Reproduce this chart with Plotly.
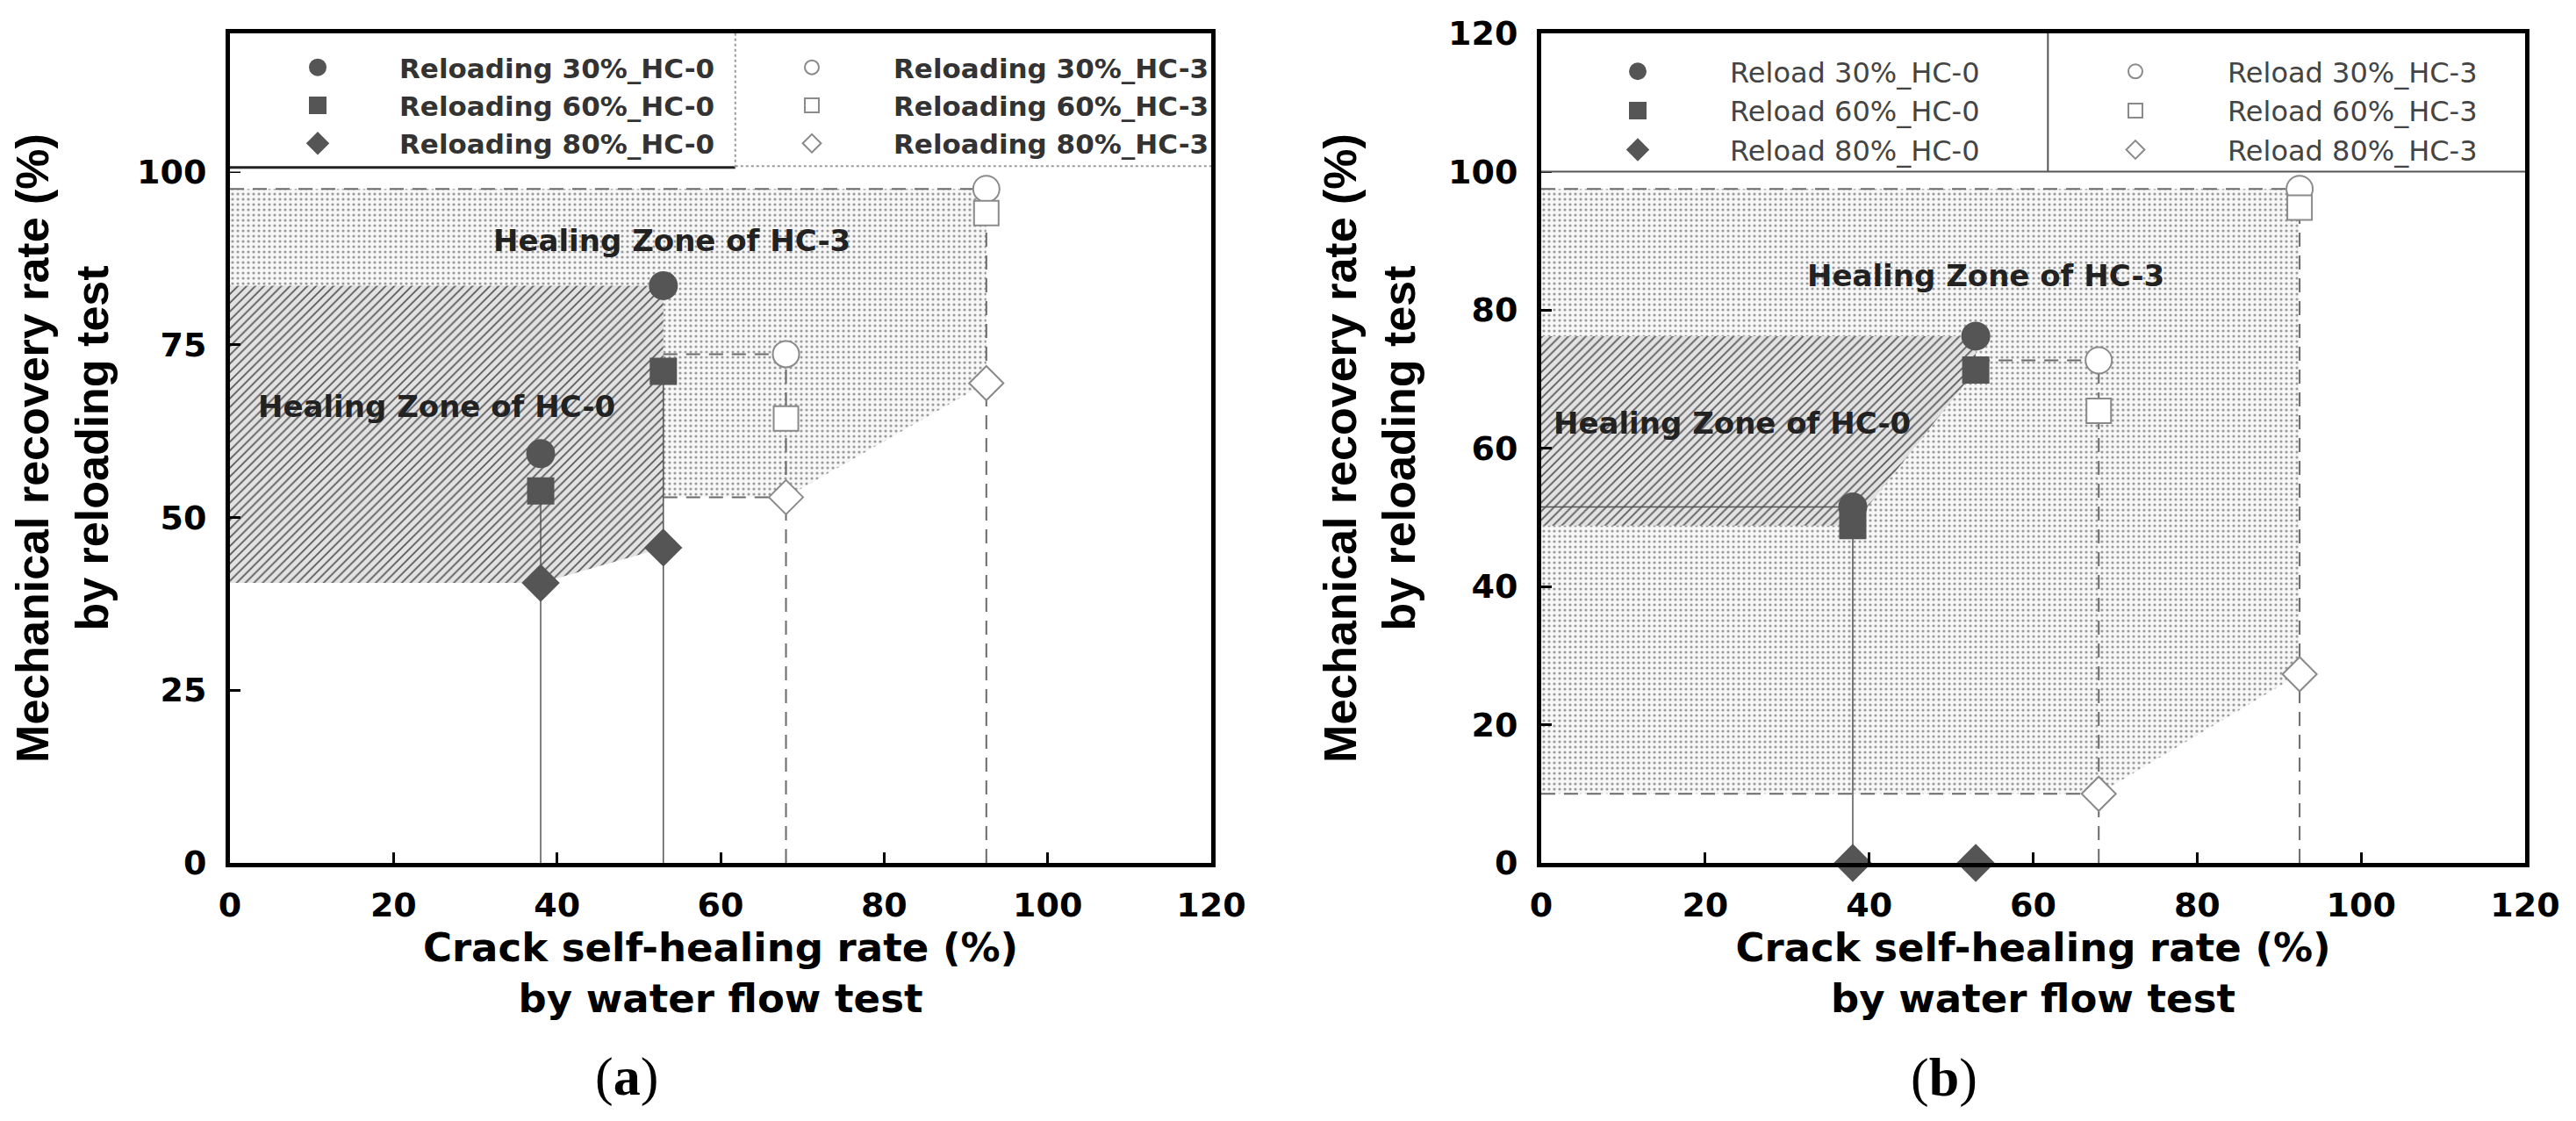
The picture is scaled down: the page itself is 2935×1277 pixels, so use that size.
import plotly.graph_objects as go

# ---------------- data ----------------
x_hc0 = [38, 53]
x_hc3 = [68, 92.5]

# panel (a)
a_hc0_30 = [59.2, 83.5]
a_hc0_60 = [53.8, 71.1]
a_hc0_80 = [40.5, 45.6]
a_hc3_30 = [73.6, 97.5]
a_hc3_60 = [64.3, 94.0]
a_hc3_80 = [52.9, 69.4]

# panel (b)
b_hc0_30 = [51.5, 76.2]
b_hc0_60 = [48.8, 71.3]
b_hc0_80 = [0.0, 0.0]
b_hc3_30 = [72.7, 97.5]
b_hc3_60 = [65.4, 94.8]
b_hc3_80 = [10.0, 27.3]

x_ticks = [0, 20, 40, 60, 80, 100, 120]
a_y_ticks = [0, 25, 50, 75, 100]
b_y_ticks = [0, 20, 40, 60, 80, 100, 120]

a_names_hc0 = ["Reloading 30%_HC-0", "Reloading 60%_HC-0", "Reloading 80%_HC-0"]
a_names_hc3 = ["Reloading 30%_HC-3", "Reloading 60%_HC-3", "Reloading 80%_HC-3"]
b_names_hc0 = ["Reload 30%_HC-0", "Reload 60%_HC-0", "Reload 80%_HC-0"]
b_names_hc3 = ["Reload 30%_HC-3", "Reload 60%_HC-3", "Reload 80%_HC-3"]

# ---------------- layout helpers ----------------
W, H = 2919, 1261
OFF = 8


def fx(px):
    return (px - OFF) / W


def fy(py):
    return 1 - (py - OFF) / H


symbols = ["circle", "square", "diamond"]
msizes = [29, 27, 29]
DARK = "#555555"

fig = go.Figure()


def add_panel(xa, ya, hc0, hc3, names0, names3, leg0, leg3, zone0, zone3, lines):
    # zones
    zx, zy = zone3
    fig.add_trace(go.Scatter(x=zx, y=zy, mode="lines", fill="toself", line=dict(width=0),
                             fillcolor="rgba(0,0,0,0)",
                             fillpattern=dict(shape=".", fgcolor="#9a9a9a", bgcolor="#f7f7f7",
                                              size=6, solidity=0.22),
                             showlegend=False, hoverinfo="skip", xaxis=xa, yaxis=ya))
    zx, zy = zone0
    fig.add_trace(go.Scatter(x=zx, y=zy, mode="lines", fill="toself", line=dict(width=0),
                             fillcolor="rgba(0,0,0,0)",
                             fillpattern=dict(shape="/", fgcolor="#5a5a5a", bgcolor="#e2e2e2",
                                              size=7, solidity=0.25),
                             showlegend=False, hoverinfo="skip", xaxis=xa, yaxis=ya))
    # guide lines
    for lx, ly, dashed in lines:
        fig.add_trace(go.Scatter(x=lx, y=ly, mode="lines",
                                 line=dict(color="#6a6a6a" if dashed else "#555555",
                                           width=2 if dashed else 1.5,
                                           dash="16px,10px" if dashed else "solid"),
                                 showlegend=False, hoverinfo="skip", xaxis=xa, yaxis=ya))
    # markers
    for i in range(3):
        fig.add_trace(go.Scatter(x=x_hc0, y=hc0[i], mode="markers", name=names0[i],
                                 marker=dict(symbol=symbols[i], size=msizes[i], color=DARK,
                                             line=dict(color=DARK, width=4)),
                                 cliponaxis=False, legend=leg0, xaxis=xa, yaxis=ya))
    for i in range(3):
        fig.add_trace(go.Scatter(x=x_hc3, y=hc3[i], mode="markers", name=names3[i],
                                 marker=dict(symbol=symbols[i], size=msizes[i] + 1, color="white",
                                             line=dict(color="#8a8a8a", width=2)),
                                 cliponaxis=False, legend=leg3, xaxis=xa, yaxis=ya))


# ---- panel (a) geometry derived from the data
a_zone0 = ([0, x_hc0[0], x_hc0[1], x_hc0[1], 0, 0],
           [a_hc0_80[0], a_hc0_80[0], a_hc0_80[1], a_hc0_30[1], a_hc0_30[1], a_hc0_80[0]])
a_zone3 = ([0, x_hc0[0], x_hc0[1], x_hc0[1], x_hc3[0], x_hc3[1], x_hc3[1], 0, 0],
           [a_hc0_80[0], a_hc0_80[0], a_hc0_80[1], a_hc3_80[0], a_hc3_80[0], a_hc3_80[1],
            a_hc3_30[1], a_hc3_30[1], a_hc0_80[0]])
a_lines = [
    ([x_hc0[0], x_hc0[0]], [0, a_hc0_60[0]], False),
    ([x_hc0[1], x_hc0[1]], [0, a_hc0_60[1]], False),
    ([x_hc3[0], x_hc3[0]], [0, a_hc3_30[0]], True),
    ([x_hc3[1], x_hc3[1]], [0, a_hc3_30[1]], True),
    ([0, x_hc3[1]], [a_hc3_30[1], a_hc3_30[1]], True),
    ([x_hc0[1], x_hc3[0]], [a_hc3_30[0], a_hc3_30[0]], True),
    ([x_hc0[1], x_hc3[0]], [a_hc3_80[0], a_hc3_80[0]], True),
]

# ---- panel (b) geometry derived from the data
b_zone0 = ([0, x_hc0[0], x_hc0[1], x_hc0[1], 0, 0],
           [b_hc0_60[0], b_hc0_60[0], b_hc0_60[1], b_hc0_30[1], b_hc0_30[1], b_hc0_60[0]])
b_zone3 = ([0, x_hc3[0], x_hc3[1], x_hc3[1], 0, 0],
           [b_hc3_80[0], b_hc3_80[0], b_hc3_80[1], b_hc3_30[1], b_hc3_30[1], b_hc3_80[0]])
b_lines = [
    ([x_hc0[0], x_hc0[0]], [0, b_hc0_60[0]], False),
    ([0, x_hc0[0]], [b_hc0_30[0], b_hc0_30[0]], False),
    ([x_hc3[0], x_hc3[0]], [0, b_hc3_30[0]], True),
    ([x_hc3[1], x_hc3[1]], [0, b_hc3_30[1]], True),
    ([0, x_hc3[1]], [b_hc3_30[1], b_hc3_30[1]], True),
    ([x_hc0[1], x_hc3[0]], [b_hc3_30[0], b_hc3_30[0]], True),
    ([0, x_hc3[0]], [b_hc3_80[0], b_hc3_80[0]], True),
]

add_panel("x", "y", [a_hc0_30, a_hc0_60, a_hc0_80], [a_hc3_30, a_hc3_60, a_hc3_80],
          a_names_hc0, a_names_hc3, "legend", "legend2", a_zone0, a_zone3, a_lines)
add_panel("x2", "y2", [b_hc0_30, b_hc0_60, b_hc0_80], [b_hc3_30, b_hc3_60, b_hc3_80],
          b_names_hc0, b_names_hc3, "legend3", "legend4", b_zone0, b_zone3, b_lines)

# ---------------- axes ----------------
tickfont = dict(family="DejaVu Sans", size=38, color="black", weight="bold")
xtitle_font = dict(family="DejaVu Sans", size=45, color="black", weight="bold")
ytitle_font = dict(family="Liberation Sans", size=52, color="black", weight="bold")

common_x = dict(range=[0, 120], tickmode="array", tickvals=x_ticks, ticks="inside", ticklen=12,
                tickwidth=3, tickcolor="black", showline=True, linewidth=5, linecolor="black",
                mirror=True, showgrid=False, zeroline=False, tickfont=tickfont,
                ticklabelstandoff=10, automargin=False,
                title=dict(text="Crack self-healing rate (%)<br>by water flow test",
                           font=xtitle_font, standoff=12))
common_y = dict(range=[0, 120], tickmode="array", ticks="inside", ticklen=12,
                tickwidth=3, tickcolor="black", showline=True, linewidth=5, linecolor="black",
                mirror=True, showgrid=False, zeroline=False, tickfont=tickfont,
                ticklabelstandoff=14, automargin=False,
                title=dict(text="Mechanical recovery rate (%)<br>by reloading test",
                           font=ytitle_font, standoff=22))

ydom = [fy(983), fy(38)]
fig.update_layout(
    xaxis=dict(domain=[fx(262), fx(1380)], anchor="y", **common_x),
    yaxis=dict(domain=ydom, anchor="x", tickvals=a_y_ticks, **common_y),
    xaxis2=dict(domain=[fx(1756), fx(2877)], anchor="y2", **common_x),
    yaxis2=dict(domain=ydom, anchor="x2", tickvals=b_y_ticks, **common_y),
)

# ---------------- legend area (white box with separators) ----------------
shapes = []
for xr, yr, solid_bottom in [("x", "y", True), ("x2", "y2", False)]:
    shapes.append(dict(type="rect", xref=xr, yref=yr, x0=0, x1=120, y0=100, y1=120,
                       fillcolor="white", line=dict(width=0), layer="above"))
    if solid_bottom:
        shapes.append(dict(type="line", xref=xr, yref=yr, x0=0, x1=61.8, y0=100.6, y1=100.6,
                           line=dict(color="#222222", width=3), layer="above"))
        shapes.append(dict(type="line", xref=xr, yref=yr, x0=61.8, x1=120, y0=100.8, y1=100.8,
                           line=dict(color="#9a9a9a", width=2, dash="dot"), layer="above"))
        shapes.append(dict(type="line", xref=xr, yref=yr, x0=61.8, x1=61.8, y0=100.6, y1=120,
                           line=dict(color="#9a9a9a", width=2, dash="dot"), layer="above"))
    else:
        shapes.append(dict(type="line", xref=xr, yref=yr, x0=0, x1=120, y0=100, y1=100,
                           line=dict(color="#555555", width=2), layer="above"))
        shapes.append(dict(type="line", xref=xr, yref=yr, x0=61.8, x1=61.8, y0=100, y1=120,
                           line=dict(color="#555555", width=2), layer="above"))
fig.update_layout(shapes=shapes)

leg_a_font = dict(family="DejaVu Sans", size=31, color="#333333", weight="bold")
leg_b_font = dict(family="DejaVu Sans", size=32, color="#444444")
legbase = dict(orientation="v", xanchor="left", yanchor="top", bgcolor="rgba(0,0,0,0)",
               borderwidth=0, tracegroupgap=0, traceorder="normal")
fig.update_layout(
    legend=dict(x=fx(269), y=fy(50), itemwidth=176, font=leg_a_font, **legbase),
    legend2=dict(x=fx(832), y=fy(50), itemwidth=176, font=leg_a_font, **legbase),
    legend3=dict(x=fx(1761), y=fy(54), itemwidth=200, font=leg_b_font, **legbase),
    legend4=dict(x=fx(2328), y=fy(54), itemwidth=200, font=leg_b_font, **legbase),
)

# ---------------- text annotations ----------------
ann = []
zone_font_a = dict(family="DejaVu Sans", size=34, color="#222222", weight="bold")
zone_font_b = dict(family="DejaVu Sans", size=34, color="#222222", weight="bold")
ann.append(dict(text="Healing Zone of HC-3", x=54, y=90, xref="x", yref="y", showarrow=False,
                font=zone_font_a))
ann.append(dict(text="Healing Zone of HC-0", x=25.3, y=66, xref="x", yref="y", showarrow=False,
                font=zone_font_a))
ann.append(dict(text="Healing Zone of HC-3", x=54.2, y=85, xref="x2", yref="y2", showarrow=False,
                font=zone_font_b))
ann.append(dict(text="Healing Zone of HC-0", x=23.3, y=63.6, xref="x2", yref="y2",
                showarrow=False, font=zone_font_b))
cap_font = dict(family="Liberation Serif", size=62, color="black")
ann.append(dict(text="(<b>a</b>)", x=fx(714), y=fy(1226), xref="paper", yref="paper",
                xanchor="center", yanchor="middle", showarrow=False, font=cap_font))
ann.append(dict(text="(<b>b</b>)", x=fx(2215), y=fy(1227), xref="paper", yref="paper",
                xanchor="center", yanchor="middle", showarrow=False, font=cap_font))
fig.update_layout(annotations=ann)

fig.update_layout(width=W, height=H, margin=dict(l=0, r=0, t=0, b=0, pad=0),
                  paper_bgcolor="white", plot_bgcolor="white", template="none",
                  showlegend=True)

fig.write_html("out.html")
